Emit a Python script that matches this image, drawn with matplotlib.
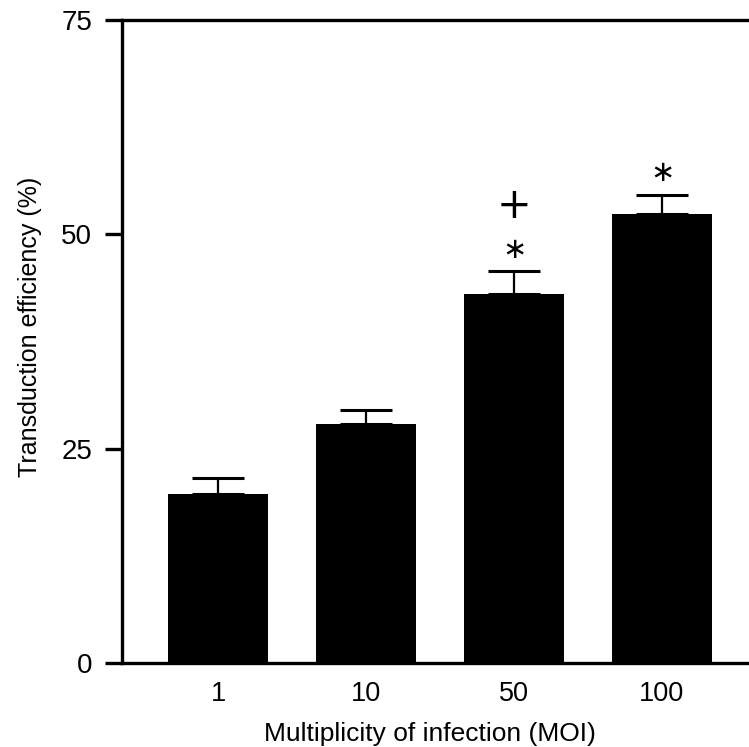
import matplotlib
matplotlib.use("Agg")
import matplotlib.pyplot as plt

plt.rcParams['font.family'] = ['Liberation Sans', 'DejaVu Sans']

# data
moi_labels = ['1', '10', '50', '100']
efficiency = [19.7, 27.9, 43.0, 52.4]
sem = [1.9, 1.6, 2.7, 2.2]
star_marks = ['', '', '\u2217', '\u2217']
plus_marks = ['', '', '+', '']

fig = plt.figure(figsize=(7.49, 7.47), dpi=100)
ax = fig.add_axes([122/749, 84/747, 627/749, 643/747])

pos = list(range(len(moi_labels)))
ax.bar(pos, efficiency, width=0.68, color='black', zorder=2)
ax.errorbar(pos, efficiency, yerr=[[0]*len(sem), sem], fmt='none',
            ecolor='black', elinewidth=1.6, capsize=18.4, capthick=2.2, zorder=1)

for i in pos:
    top = efficiency[i] + sem[i]
    if star_marks[i]:
        ax.text(i, top + 2.5, star_marks[i], ha='center', va='center',
                fontsize=21, family='DejaVu Sans')
    if plus_marks[i]:
        ax.text(i, top + 7.6, plus_marks[i], ha='center', va='center',
                fontsize=30, family='DejaVu Sans')

ax.set_xlim(-0.649, 3.588)
ax.set_ylim(0, 75)
ax.set_yticks([0, 25, 50, 75])
ax.set_xticks(pos)
ax.set_xticklabels(moi_labels)

ax.spines['right'].set_visible(False)
for s in ['left', 'bottom', 'top']:
    ax.spines[s].set_linewidth(2.4)

ax.tick_params(axis='y', length=12.5, width=2.4, labelsize=20, pad=9)
ax.tick_params(axis='x', length=0, labelsize=19.5, pad=13)

ax.set_xlabel('Multiplicity of infection (MOI)', fontsize=19)
ax.set_ylabel('Transduction efficiency (%)', fontsize=18)
ax.xaxis.set_label_coords(0.491, -0.11)
ax.xaxis.label.set_va('center')
ax.yaxis.set_label_coords(-0.147, 0.5226)
ax.yaxis.label.set_va('center')

fig.savefig('out.png', dpi=100)
